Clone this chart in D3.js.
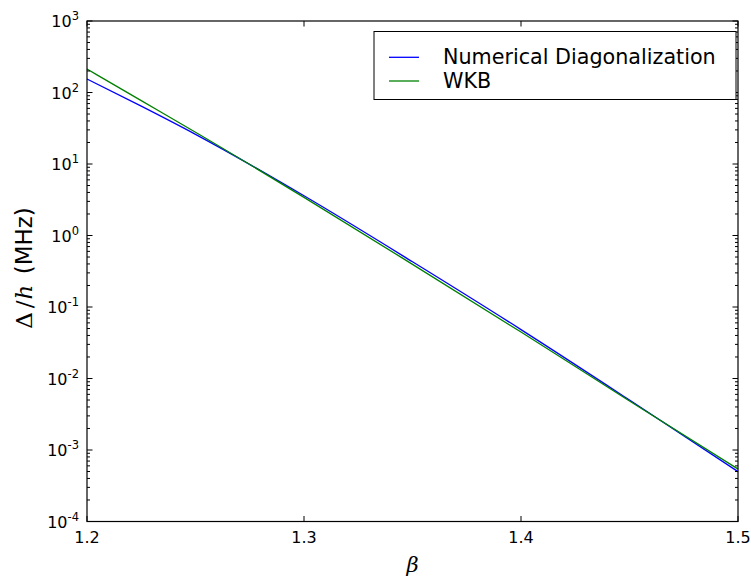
<!DOCTYPE html>
<html lang="en">
<head>
    <meta charset="UTF-8">
    <title>Splitting vs beta</title>
    <style>
        body { margin: 0; background: #fff; }
        svg { display: block; font-family: "DejaVu Sans", sans-serif; }
    </style>
</head>
<body>
    <script src="https://cdnjs.cloudflare.com/ajax/libs/d3/7.8.2/d3.min.js"></script>
    <script>

        // data
        const beta = [1.20, 1.225, 1.25, 1.30, 1.35, 1.40, 1.45, 1.50];
        const numerical = [154.5, 64.4, 26.0, 3.59, 0.429, 0.0483, 0.00500, 0.000498];
        const wkb = [213, 76.9, 27.8, 3.41, 0.395, 0.0447, 0.00484, 0.000542];

        const xTicks = [1.2, 1.3, 1.4, 1.5];
        const yExponents = [-4, -3, -2, -1, 0, 1, 2, 3];
        const seriesNames = ["Numerical Diagonalization", "WKB"];
        const colors = ["#0000ff", "#008000"];

        const w = 751;
        const h = 576;
        const m = {top: 21, right: 13, bottom: 54.5, left: 87};

        const svg = d3.select("body")
            .append("svg")
            .attr("width", w)
            .attr("height", h)

        const x = d3.scaleLinear()
            .domain([1.2, 1.5])
            .range([m.left, w - m.right])

        const y = d3.scaleLog()
            .domain([1e-4, 1e3])
            .range([h - m.bottom, m.top])

        // lines
        const line = d3.line()
            .x(d => x(d[0]))
            .y(d => y(d[1]))
            .curve(d3.curveMonotoneX)

        const series = [numerical, wkb];
        series.forEach((vals, i) => {
            svg.append("path")
                .datum(beta.map((b, j) => [b, vals[j]]))
                .attr("d", line)
                .attr("fill", "none")
                .attr("stroke", colors[i])
                .attr("stroke-width", 1.3)
        })

        // frame
        svg.append("rect")
            .attr("x", m.left)
            .attr("y", m.top)
            .attr("width", w - m.right - m.left)
            .attr("height", h - m.bottom - m.top)
            .attr("fill", "none")
            .attr("stroke", "#000")
            .attr("stroke-width", 1.2)

        const majorLen = 5.5, minorLen = 3;

        // x ticks, inward, top and bottom
        xTicks.forEach(t => {
            const px = x(t);
            svg.append("line").attr("x1", px).attr("x2", px)
                .attr("y1", h - m.bottom).attr("y2", h - m.bottom - majorLen)
                .attr("stroke", "#000");
            svg.append("line").attr("x1", px).attr("x2", px)
                .attr("y1", m.top).attr("y2", m.top + majorLen)
                .attr("stroke", "#000");
            svg.append("text")
                .attr("x", px)
                .attr("y", h - m.bottom + 21)
                .attr("text-anchor", "middle")
                .attr("font-size", 16)
                .text(t.toFixed(1))
        })

        // y ticks (major + minor), inward, left and right
        const minors = [];
        yExponents.slice(0, -1).forEach(e => {
            for (let k = 2; k <= 9; k++) minors.push(k * Math.pow(10, e));
        })
        minors.forEach(v => {
            const py = y(v);
            svg.append("line").attr("x1", m.left).attr("x2", m.left + minorLen)
                .attr("y1", py).attr("y2", py).attr("stroke", "#000");
            svg.append("line").attr("x1", w - m.right).attr("x2", w - m.right - minorLen)
                .attr("y1", py).attr("y2", py).attr("stroke", "#000");
        })
        yExponents.forEach(e => {
            const py = y(Math.pow(10, e));
            svg.append("line").attr("x1", m.left).attr("x2", m.left + majorLen)
                .attr("y1", py).attr("y2", py).attr("stroke", "#000");
            svg.append("line").attr("x1", w - m.right).attr("x2", w - m.right - majorLen)
                .attr("y1", py).attr("y2", py).attr("stroke", "#000");
            const t = svg.append("text")
                .attr("x", m.left - 8)
                .attr("y", py + 6)
                .attr("text-anchor", "end")
                .attr("font-size", 16)
            t.append("tspan").text("10")
            t.append("tspan").attr("font-size", 11.5).attr("dy", -7).text(e)
        })

        // axis labels
        svg.append("text")
            .attr("x", (m.left + w - m.right) / 2)
            .attr("y", h - 4)
            .attr("text-anchor", "middle")
            .attr("font-size", 21)
            .attr("font-style", "italic")
            .attr("font-family", "'DejaVu Serif', serif")
            .text("β")

        const yl = svg.append("text")
            .attr("transform", `translate(32,268) rotate(-90)`)
            .attr("text-anchor", "middle")
            .attr("font-size", 23)
        yl.append("tspan").attr("font-family", "'DejaVu Serif', serif").text("Δ")
        yl.append("tspan").attr("font-family", "'DejaVu Serif', serif").attr("dx", 4).text("/")
        yl.append("tspan").attr("font-style", "italic").attr("font-family", "'DejaVu Serif', serif").attr("dx", 1).text("h")
        yl.append("tspan").attr("dx", 3).text(" (MHz)")

        // legend
        const lg = svg.append("g")
        lg.append("rect")
            .attr("x", 374).attr("y", 31.5)
            .attr("width", 362).attr("height", 68)
            .attr("fill", "#fff").attr("stroke", "#000").attr("stroke-width", 1)
        seriesNames.forEach((name, i) => {
            const ly = 57.3 + i * 23.7;
            lg.append("line")
                .attr("x1", 389).attr("x2", 419)
                .attr("y1", ly).attr("y2", ly)
                .attr("stroke", colors[i]).attr("stroke-width", 1.3)
            lg.append("text")
                .attr("x", 443).attr("y", ly + 7)
                .attr("font-size", 20.7)
                .text(name)
        })

    </script>
</body>
</html>
